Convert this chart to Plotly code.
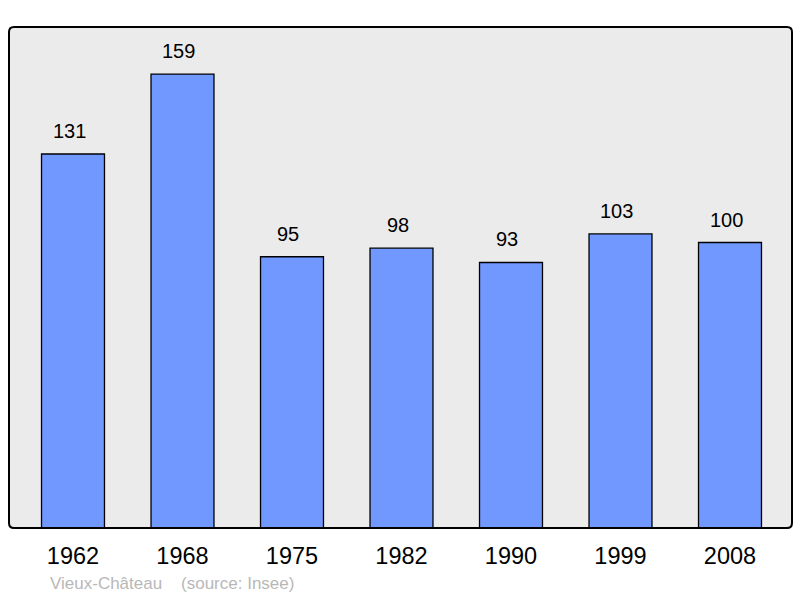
import plotly.graph_objects as go

years = ["1962", "1968", "1975", "1982", "1990", "1999", "2008"]
population = [131, 159, 95, 98, 93, 103, 100]
footer_text = "Vieux-Château    (source: Insee)"

W, H = 800, 598
L, R, T, B = 9, 8, 27, 70
pw, ph = W - L - R, H - T - B

xs = list(range(len(years)))
fig = go.Figure()
fig.add_trace(go.Bar(
    x=xs, y=population, width=0.575,
    marker=dict(color="#7098ff", line=dict(color="#000000", width=1.3)),
    hoverinfo="skip",
))

for xi, v in zip(xs, population):
    fig.add_annotation(x=xi, y=v, text=str(v), showarrow=False,
                       yanchor="bottom", yshift=10, xshift=-4,
                       font=dict(size=20, color="#000000", family="Liberation Sans, Arial"))

rx, ry = 5 / pw, 5 / ph
path = (f"M {rx},0 L {1-rx},0 Q 1,0 1,{ry} L 1,{1-ry} Q 1,1 {1-rx},1 "
        f"L {rx},1 Q 0,1 0,{1-ry} L 0,{ry} Q 0,0 {rx},0 Z")
fig.add_shape(type="path", path=path, xref="paper", yref="paper",
              line=dict(color="#000000", width=2), layer="above")

fig.add_annotation(xref="paper", yref="paper", x=(48 - L) / pw, y=-(583 - 528) / ph,
                   xanchor="left", yanchor="middle", showarrow=False,
                   text=footer_text,
                   font=dict(size=17, color="#b8b8b8", family="Liberation Sans, Arial"))

step = 109.5
x0 = -(73 - L) / step
fig.update_layout(
    width=W, height=H,
    margin=dict(l=L, r=R, t=T, b=B),
    paper_bgcolor="#ffffff", plot_bgcolor="#ebebeb",
    showlegend=False,
    bargap=0.4,
    xaxis=dict(range=[x0, x0 + pw / step], tickmode="array", tickvals=xs, ticktext=years,
               showgrid=False, zeroline=False, showline=False, ticks="",
               ticklabelstandoff=11,
               tickfont=dict(size=23.5, color="#000000", family="Liberation Sans, Arial")),
    yaxis=dict(range=[0, ph / 2.855], showgrid=False, zeroline=False, showline=False,
               showticklabels=False, ticks=""),
)
fig.write_html("out.html", config={"displayModeBar": False},
               post_script="document.body.style.margin='0';document.body.style.overflow='hidden';")
